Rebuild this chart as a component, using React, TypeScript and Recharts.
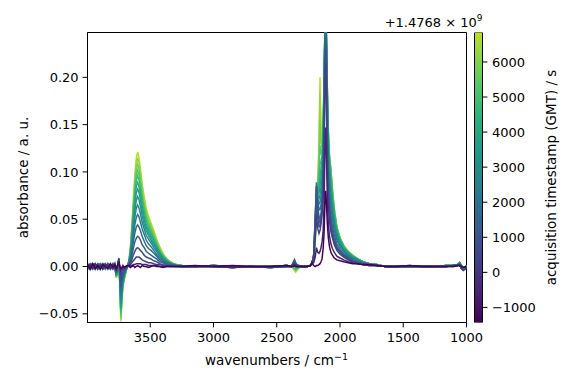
import React from 'react';
import { LineChart, Line, XAxis, YAxis, BarChart, Bar, ReferenceArea } from 'recharts';

const wavenumbers = [
  3996, 3975, 3955, 3935, 3915, 3895, 3875, 3855, 3835, 3815, 3795, 3780,
  3768, 3758, 3748, 3740, 3732, 3724, 3716, 3706, 3694, 3682,
  3670, 3658, 3646, 3634, 3622, 3610, 3600, 3590, 3578, 3564, 3548, 3532, 3514, 3494, 3472, 3450, 3425, 3400, 3370, 3340, 3300, 3250,
  3150, 3000, 2850, 2700, 2550, 2420,
  2385, 2370, 2360, 2350, 2340, 2325, 2300,
  2260, 2235, 2222, 2208, 2196, 2186, 2176, 2166, 2158, 2150, 2142, 2134, 2126, 2119, 2113, 2107, 2100, 2092, 2083, 2072, 2060, 2045, 2025, 2000, 1970, 1935, 1900, 1860, 1820, 1770, 1710,
  1640, 1550, 1450, 1350, 1250, 1160, 1100, 1070, 1055, 1040, 1025, 1000,
];

const timestamps = [-1400, -500, 300, 800, 1300, 1800, 2300, 2800, 3300, 3800, 4300, 4800, 5300, 5800, 6300, 6800];

const s0 = [
  0.002, -0.003, 0.003, -0.002, 0.001, -0.003, 0.002, 0.000, -0.002, 0.003, -0.001, 0.002,
  -0.002, 0.002, 0.004, 0.000, -0.002, -0.001, 0.001, -0.001, 0.000, 0.001,
  0.001, -0.001, 0.000, 0.001, -0.001, 0.000, 0.001, 0.000, -0.001, 0.001, 0.000, 0.000, -0.001, 0.000, 0.001, 0.000, 0.000, -0.001, 0.000, 0.000, 0.000, 0.000,
  0.001, 0.000, 0.001, 0.000, 0.000, 0.001,
  0.000, 0.000, 0.001, 0.000, 0.000, 0.000, 0.000,
  0.000, 0.001, 0.004, 0.001, 0.000, 0.001, 0.001, 0.002, 0.003, 0.005, 0.008, 0.018, 0.035, 0.068, 0.080, 0.066, 0.045, 0.030, 0.021, 0.015, 0.012, 0.009, 0.007, 0.006, 0.005, 0.004, 0.003, 0.003, 0.002, 0.002, 0.001,
  0.000, 0.000, 0.001, 0.000, 0.000, 0.000, 0.000, 0.001, 0.001, 0.000, -0.001, 0.000,
];
const s1 = [
  -0.001, 0.002, -0.002, 0.003, -0.001, 0.001, -0.003, 0.002, 0.001, -0.002, 0.002, -0.001,
  -0.003, 0.001, 0.005, -0.001, -0.004, -0.002, -0.001, -0.001, 0.000, 0.000,
  0.000, 0.001, 0.001, 0.002, 0.002, 0.003, 0.003, 0.003, 0.003, 0.002, 0.002, 0.002, 0.001, 0.001, 0.001, 0.001, 0.000, 0.000, 0.000, 0.000, 0.000, 0.000,
  0.000, 0.000, -0.001, 0.000, 0.000, 0.001,
  0.000, 0.001, 0.002, 0.001, 0.000, 0.000, 0.000,
  0.000, 0.001, 0.003, 0.004, 0.010, 0.020, 0.015, 0.014, 0.016, 0.020, 0.026, 0.036, 0.065, 0.125, 0.147, 0.115, 0.070, 0.045, 0.032, 0.024, 0.019, 0.015, 0.011, 0.009, 0.007, 0.005, 0.004, 0.003, 0.002, 0.001, 0.001,
  0.000, 0.000, 0.001, 0.000, 0.000, 0.000, 0.000, 0.001, 0.001, 0.000, -0.001, 0.000,
];
const s2 = [
  0.003, -0.001, 0.001, -0.003, 0.002, 0.000, 0.002, -0.002, 0.003, -0.001, 0.000, -0.002,
  -0.004, 0.001, 0.008, -0.003, -0.009, -0.005, -0.003, -0.002, -0.001, 0.000,
  0.001, 0.002, 0.004, 0.006, 0.008, 0.010, 0.010, 0.010, 0.009, 0.007, 0.006, 0.005, 0.004, 0.004, 0.003, 0.002, 0.002, 0.001, 0.001, 0.000, 0.000, 0.000,
  0.000, 0.001, 0.000, 0.000, -0.001, 0.000,
  0.000, 0.002, 0.004, 0.002, 0.001, 0.000, 0.000,
  0.000, 0.001, 0.003, 0.008, 0.030, 0.055, 0.040, 0.035, 0.038, 0.045, 0.055, 0.072, 0.120, 0.190, 0.215, 0.175, 0.100, 0.066, 0.048, 0.037, 0.030, 0.023, 0.017, 0.013, 0.010, 0.007, 0.005, 0.003, 0.002, 0.001, 0.001,
  0.000, 0.000, 0.000, 0.000, 0.000, 0.000, 0.001, 0.001, 0.002, -0.002, -0.004, -0.001,
];
const s3 = [
  -0.002, 0.001, 0.003, -0.001, -0.002, 0.002, 0.000, 0.003, -0.002, 0.001, -0.003, 0.001,
  -0.005, 0.001, 0.009, -0.005, -0.015, -0.009, -0.006, -0.003, -0.001, 0.000,
  0.001, 0.003, 0.007, 0.012, 0.016, 0.019, 0.020, 0.019, 0.017, 0.015, 0.012, 0.010, 0.009, 0.008, 0.006, 0.005, 0.003, 0.002, 0.001, 0.001, 0.000, 0.000,
  0.000, 0.000, -0.001, 0.000, 0.000, 0.001,
  0.000, 0.003, 0.005, 0.002, 0.001, 0.000, 0.000,
  0.000, 0.001, 0.003, 0.010, 0.040, 0.070, 0.052, 0.042, 0.042, 0.048, 0.058, 0.078, 0.130, 0.205, 0.230, 0.190, 0.112, 0.075, 0.055, 0.042, 0.034, 0.026, 0.019, 0.015, 0.011, 0.008, 0.006, 0.004, 0.002, 0.001, 0.001,
  0.000, 0.000, 0.000, 0.000, 0.000, 0.000, 0.001, 0.001, 0.002, -0.002, -0.004, -0.001,
];
const s4 = [
  0.001, -0.002, 0.000, 0.002, -0.003, 0.001, 0.003, -0.001, 0.000, 0.002, -0.002, 0.003,
  -0.006, 0.001, 0.008, -0.007, -0.021, -0.013, -0.008, -0.005, -0.002, 0.000,
  0.002, 0.005, 0.011, 0.019, 0.026, 0.030, 0.032, 0.031, 0.028, 0.023, 0.020, 0.016, 0.014, 0.012, 0.010, 0.008, 0.005, 0.004, 0.002, 0.001, 0.001, 0.000,
  0.000, 0.001, 0.000, 0.000, -0.001, 0.000,
  0.000, 0.004, 0.007, 0.003, 0.002, 0.001, 0.000,
  0.000, 0.001, 0.003, 0.012, 0.050, 0.085, 0.062, 0.048, 0.046, 0.052, 0.062, 0.084, 0.142, 0.218, 0.242, 0.205, 0.125, 0.083, 0.062, 0.048, 0.038, 0.029, 0.021, 0.016, 0.012, 0.009, 0.006, 0.004, 0.003, 0.002, 0.001,
  0.000, 0.000, 0.000, 0.000, 0.000, 0.000, 0.001, 0.001, 0.002, -0.002, -0.004, -0.001,
];
const s5 = [
  0.000, 0.003, -0.002, 0.001, 0.002, -0.003, 0.001, 0.002, -0.001, -0.002, 0.003, 0.000,
  -0.007, 0.000, 0.008, -0.009, -0.026, -0.016, -0.010, -0.006, -0.003, 0.000,
  0.002, 0.007, 0.015, 0.026, 0.035, 0.042, 0.044, 0.042, 0.038, 0.032, 0.027, 0.022, 0.019, 0.017, 0.014, 0.011, 0.007, 0.005, 0.003, 0.002, 0.001, 0.000,
  0.000, 0.000, -0.001, 0.000, 0.000, 0.001,
  0.000, 0.004, 0.007, 0.004, 0.002, 0.001, 0.000,
  0.000, 0.001, 0.003, 0.013, 0.052, 0.089, 0.066, 0.052, 0.050, 0.056, 0.066, 0.090, 0.150, 0.232, 0.255, 0.215, 0.138, 0.091, 0.070, 0.054, 0.043, 0.033, 0.024, 0.018, 0.013, 0.010, 0.007, 0.005, 0.003, 0.002, 0.001,
  0.000, 0.000, 0.000, 0.000, 0.000, 0.000, 0.001, 0.001, 0.002, -0.002, -0.004, -0.001,
];
const s6 = [
  -0.003, 0.000, 0.002, -0.002, 0.003, 0.001, -0.002, 0.000, 0.002, -0.003, 0.001, 0.002,
  -0.008, 0.000, 0.007, -0.011, -0.031, -0.019, -0.012, -0.007, -0.003, 0.000,
  0.003, 0.008, 0.019, 0.032, 0.044, 0.052, 0.055, 0.053, 0.047, 0.040, 0.034, 0.028, 0.024, 0.021, 0.017, 0.013, 0.009, 0.006, 0.004, 0.002, 0.001, 0.000,
  0.000, 0.001, 0.000, 0.000, -0.001, 0.000,
  0.000, 0.004, 0.006, 0.003, 0.001, 0.001, 0.000,
  0.000, 0.001, 0.003, 0.012, 0.048, 0.085, 0.070, 0.060, 0.060, 0.066, 0.076, 0.100, 0.165, 0.245, 0.262, 0.225, 0.150, 0.100, 0.078, 0.062, 0.050, 0.038, 0.028, 0.021, 0.015, 0.011, 0.008, 0.006, 0.004, 0.002, 0.001,
  0.000, 0.000, 0.000, 0.000, 0.000, 0.000, 0.001, 0.001, 0.002, -0.002, -0.004, -0.001,
];
const s7 = [
  0.002, 0.001, -0.003, 0.000, 0.001, 0.003, -0.001, -0.002, 0.003, 0.000, -0.002, 0.001,
  -0.008, -0.001, 0.007, -0.013, -0.035, -0.022, -0.013, -0.008, -0.004, 0.000,
  0.003, 0.010, 0.023, 0.038, 0.052, 0.062, 0.065, 0.062, 0.056, 0.047, 0.040, 0.033, 0.029, 0.025, 0.020, 0.016, 0.011, 0.007, 0.005, 0.003, 0.001, 0.000,
  0.000, 0.000, -0.001, 0.000, 0.000, 0.001,
  0.000, 0.003, 0.005, 0.002, 0.001, 0.000, 0.000,
  0.000, 0.001, 0.003, 0.011, 0.045, 0.082, 0.072, 0.066, 0.068, 0.075, 0.085, 0.110, 0.175, 0.248, 0.262, 0.230, 0.160, 0.110, 0.087, 0.070, 0.056, 0.043, 0.031, 0.023, 0.017, 0.012, 0.009, 0.006, 0.004, 0.002, 0.001,
  0.000, 0.000, 0.000, 0.000, 0.000, 0.000, 0.001, 0.001, 0.002, -0.002, -0.004, -0.001,
];
const s8 = [
  -0.001, -0.003, 0.001, 0.003, 0.000, -0.001, 0.002, 0.003, -0.003, 0.002, 0.001, -0.002,
  -0.009, -0.001, 0.006, -0.014, -0.039, -0.024, -0.015, -0.009, -0.004, 0.000,
  0.004, 0.011, 0.026, 0.043, 0.059, 0.070, 0.074, 0.071, 0.064, 0.054, 0.045, 0.038, 0.033, 0.028, 0.023, 0.018, 0.013, 0.009, 0.005, 0.003, 0.001, 0.000,
  0.000, 0.001, 0.000, 0.000, -0.001, 0.000,
  0.000, 0.003, 0.004, 0.001, 0.000, 0.000, 0.000,
  0.000, 0.001, 0.003, 0.010, 0.042, 0.078, 0.074, 0.072, 0.076, 0.084, 0.094, 0.118, 0.182, 0.250, 0.262, 0.235, 0.168, 0.118, 0.095, 0.078, 0.062, 0.047, 0.034, 0.025, 0.018, 0.013, 0.010, 0.007, 0.004, 0.003, 0.001,
  0.000, 0.000, 0.000, 0.000, 0.000, 0.001, 0.001, 0.002, 0.004, 0.001, -0.002, 0.001,
];
const s9 = [
  0.003, 0.000, -0.001, -0.002, 0.002, 0.003, 0.000, -0.003, 0.001, 0.002, -0.001, 0.003,
  -0.009, -0.002, 0.006, -0.016, -0.043, -0.026, -0.016, -0.010, -0.005, 0.000,
  0.004, 0.012, 0.029, 0.048, 0.066, 0.078, 0.082, 0.079, 0.071, 0.060, 0.050, 0.042, 0.036, 0.031, 0.025, 0.020, 0.014, 0.009, 0.006, 0.003, 0.001, 0.000,
  0.000, 0.000, -0.001, 0.000, 0.000, 0.001,
  0.000, 0.002, 0.003, 0.000, -0.001, 0.000, 0.000,
  0.000, 0.001, 0.003, 0.010, 0.038, 0.074, 0.075, 0.078, 0.085, 0.094, 0.104, 0.126, 0.190, 0.252, 0.262, 0.240, 0.175, 0.126, 0.102, 0.085, 0.067, 0.051, 0.036, 0.027, 0.019, 0.014, 0.010, 0.007, 0.005, 0.003, 0.002,
  0.000, 0.000, 0.000, 0.000, 0.000, 0.001, 0.001, 0.002, 0.004, 0.001, -0.002, 0.001,
];
const s10 = [
  -0.002, 0.002, 0.003, 0.000, -0.003, 0.002, 0.001, 0.001, -0.002, 0.000, 0.003, -0.001,
  -0.010, -0.002, 0.006, -0.017, -0.046, -0.028, -0.017, -0.011, -0.005, 0.000,
  0.004, 0.013, 0.031, 0.052, 0.071, 0.085, 0.089, 0.085, 0.077, 0.065, 0.054, 0.045, 0.039, 0.034, 0.028, 0.021, 0.015, 0.010, 0.006, 0.004, 0.002, 0.001,
  0.000, 0.001, 0.000, 0.000, -0.001, 0.000,
  0.000, 0.001, 0.002, -0.001, -0.001, 0.000, 0.000,
  0.000, 0.001, 0.003, 0.009, 0.035, 0.070, 0.076, 0.084, 0.095, 0.104, 0.112, 0.132, 0.195, 0.253, 0.262, 0.243, 0.180, 0.132, 0.108, 0.092, 0.072, 0.054, 0.038, 0.028, 0.020, 0.015, 0.011, 0.008, 0.005, 0.003, 0.002,
  0.000, 0.000, 0.000, 0.000, 0.000, 0.001, 0.001, 0.002, 0.004, 0.001, -0.002, 0.001,
];
const s11 = [
  0.001, -0.001, -0.003, 0.002, 0.001, -0.002, 0.003, 0.000, 0.002, -0.003, 0.000, 0.002,
  -0.010, -0.002, 0.005, -0.018, -0.049, -0.030, -0.018, -0.012, -0.006, 0.000,
  0.005, 0.014, 0.034, 0.056, 0.077, 0.091, 0.096, 0.092, 0.083, 0.070, 0.059, 0.049, 0.042, 0.036, 0.030, 0.023, 0.016, 0.011, 0.007, 0.004, 0.002, 0.001,
  0.000, 0.000, -0.001, 0.000, 0.000, 0.001,
  0.000, 0.000, 0.000, -0.002, -0.002, -0.001, 0.000,
  0.000, 0.001, 0.003, 0.009, 0.033, 0.066, 0.078, 0.092, 0.108, 0.112, 0.118, 0.136, 0.198, 0.254, 0.262, 0.245, 0.185, 0.138, 0.112, 0.097, 0.076, 0.057, 0.040, 0.029, 0.021, 0.015, 0.011, 0.008, 0.005, 0.003, 0.002,
  0.000, 0.000, 0.000, 0.000, 0.000, 0.001, 0.001, 0.002, 0.004, 0.001, -0.002, 0.001,
];
const s12 = [
  0.000, 0.003, 0.001, -0.003, 0.002, 0.000, -0.002, 0.002, 0.000, 0.003, -0.002, -0.001,
  -0.011, -0.003, 0.005, -0.019, -0.052, -0.032, -0.019, -0.012, -0.006, 0.000,
  0.005, 0.015, 0.036, 0.059, 0.082, 0.097, 0.102, 0.098, 0.088, 0.074, 0.062, 0.052, 0.045, 0.039, 0.032, 0.024, 0.017, 0.012, 0.007, 0.004, 0.002, 0.001,
  0.000, 0.001, 0.000, 0.000, -0.001, 0.000,
  0.000, -0.001, -0.002, -0.003, -0.002, -0.001, 0.000,
  0.000, 0.001, 0.003, 0.008, 0.030, 0.062, 0.080, 0.102, 0.128, 0.120, 0.122, 0.140, 0.200, 0.254, 0.262, 0.246, 0.188, 0.142, 0.115, 0.100, 0.079, 0.059, 0.041, 0.030, 0.021, 0.015, 0.011, 0.008, 0.005, 0.003, 0.002,
  0.000, 0.000, 0.000, 0.000, 0.000, 0.001, 0.001, 0.002, 0.004, 0.001, -0.002, 0.001,
];
const s13 = [
  0.002, -0.002, 0.000, 0.001, -0.001, 0.003, 0.000, -0.003, 0.002, 0.001, 0.002, -0.003,
  -0.011, -0.003, 0.005, -0.020, -0.054, -0.033, -0.020, -0.013, -0.006, 0.000,
  0.005, 0.016, 0.038, 0.063, 0.086, 0.103, 0.108, 0.104, 0.093, 0.079, 0.066, 0.055, 0.048, 0.041, 0.033, 0.026, 0.018, 0.012, 0.008, 0.004, 0.002, 0.001,
  0.000, 0.000, -0.001, 0.000, 0.000, 0.001,
  0.000, -0.001, -0.003, -0.004, -0.003, -0.001, 0.000,
  0.000, 0.001, 0.003, 0.008, 0.028, 0.058, 0.082, 0.115, 0.155, 0.130, 0.126, 0.142, 0.198, 0.250, 0.256, 0.240, 0.188, 0.144, 0.117, 0.102, 0.081, 0.060, 0.042, 0.030, 0.022, 0.016, 0.012, 0.008, 0.005, 0.003, 0.002,
  0.000, 0.000, 0.000, 0.000, 0.000, 0.001, 0.001, 0.002, 0.004, 0.001, -0.002, 0.001,
];
const s14 = [
  -0.003, 0.001, 0.002, -0.001, 0.003, -0.002, 0.001, 0.002, -0.001, -0.002, 0.003, 0.000,
  -0.012, -0.003, 0.004, -0.021, -0.056, -0.035, -0.021, -0.013, -0.007, 0.000,
  0.006, 0.017, 0.040, 0.067, 0.092, 0.109, 0.115, 0.110, 0.099, 0.084, 0.070, 0.059, 0.051, 0.044, 0.036, 0.028, 0.020, 0.013, 0.008, 0.005, 0.002, 0.001,
  0.000, 0.001, 0.000, 0.000, -0.001, 0.000,
  0.000, -0.002, -0.004, -0.005, -0.003, -0.001, 0.000,
  0.000, 0.001, 0.002, 0.007, 0.026, 0.055, 0.084, 0.128, 0.185, 0.140, 0.128, 0.140, 0.185, 0.225, 0.225, 0.212, 0.176, 0.140, 0.117, 0.103, 0.082, 0.061, 0.042, 0.030, 0.022, 0.016, 0.012, 0.008, 0.005, 0.003, 0.002,
  0.000, 0.000, 0.000, 0.000, 0.000, 0.001, 0.001, 0.002, 0.004, 0.001, -0.002, 0.001,
];
const s15 = [
  0.001, 0.002, -0.002, 0.003, -0.002, 0.001, -0.003, 0.001, 0.003, 0.000, -0.001, 0.002,
  -0.012, -0.004, 0.004, -0.022, -0.058, -0.036, -0.022, -0.014, -0.007, 0.000,
  0.006, 0.018, 0.042, 0.070, 0.097, 0.115, 0.121, 0.116, 0.104, 0.088, 0.074, 0.062, 0.053, 0.046, 0.038, 0.029, 0.021, 0.014, 0.008, 0.005, 0.002, 0.001,
  0.000, 0.000, -0.001, 0.000, 0.000, 0.001,
  0.000, -0.002, -0.004, -0.006, -0.004, -0.001, 0.000,
  0.000, 0.001, 0.002, 0.007, 0.025, 0.052, 0.085, 0.135, 0.200, 0.145, 0.128, 0.136, 0.170, 0.200, 0.198, 0.188, 0.165, 0.136, 0.116, 0.102, 0.082, 0.061, 0.042, 0.030, 0.022, 0.016, 0.012, 0.008, 0.005, 0.003, 0.002,
  0.000, 0.000, 0.000, 0.000, 0.000, 0.001, 0.001, 0.002, 0.004, 0.001, -0.002, 0.001,
];

const spectra = [s0, s1, s2, s3, s4, s5, s6, s7, s8, s9, s10, s11, s12, s13, s14, s15];

const xTicks = [3500, 3000, 2500, 2000, 1500, 1000];
const yTicks = [-0.05, 0, 0.05, 0.1, 0.15, 0.2];
const cbTicks = [-1000, 0, 1000, 2000, 3000, 4000, 5000, 6000];
const cbRange = [-1430, 6840];
const xDomain = [1000, 3996];
const yDomain = [-0.0592, 0.2474];

const VIRIDIS = ['#440154', '#482475', '#414487', '#355f8d', '#2a788e', '#21918c', '#22a884', '#44bf70', '#7ad151', '#bddf26', '#fde725'];
const CMAP_TOP = 0.9;

function hexToRgb(h: string) {
  return [parseInt(h.slice(1, 3), 16), parseInt(h.slice(3, 5), 16), parseInt(h.slice(5, 7), 16)];
}
function viridis(f: number) {
  const c = Math.max(0, Math.min(1, f)) * (VIRIDIS.length - 1);
  const i = Math.min(VIRIDIS.length - 2, Math.floor(c));
  const t = c - i;
  const a = hexToRgb(VIRIDIS[i]);
  const b = hexToRgb(VIRIDIS[i + 1]);
  const m = a.map((v, j) => Math.round(v + (b[j] - v) * t));
  return `rgb(${m[0]},${m[1]},${m[2]})`;
}
function colorFor(ts: number) {
  return viridis(((ts - cbRange[0]) / (cbRange[1] - cbRange[0])) * CMAP_TOP);
}

const rows = wavenumbers.map((w, i) => {
  const r: Record<string, number> = { w };
  spectra.forEach((s, k) => {
    r['s' + k] = s[i];
  });
  return r;
});

const cbData = [{ name: 'cb', range: cbRange }];

const FONT = 'DejaVu Sans';
const FS = 13;
const FS_LABEL = 13.5;
const tickStyle = { fill: '#000', fontSize: FS, fontFamily: FONT };
const minus = (s: string) => s.replace('-', '\u2212');

const gradStops = Array.from({ length: 11 }, (_, i) => i / 10);

export default function App() {
  const order = spectra.map((_, k) => k).reverse();
  return (
    <div style={{ position: 'relative', width: 576, height: 384 }}>
      <div style={{ position: 'fixed', left: 0, top: 0, width: 576, height: 384, background: '#fff' }}>
        <svg width={576} height={384} style={{ position: 'absolute', left: 0, top: 0 }}>
          <defs>
            <linearGradient id="viridisGrad" x1="0" y1="1" x2="0" y2="0">
              {gradStops.map((o) => (
                <stop key={o} offset={o} stopColor={viridis(o * CMAP_TOP)} />
              ))}
            </linearGradient>
          </defs>
        </svg>
        <div style={{ position: 'absolute', left: 0, top: 0 }}>
          <LineChart width={576} height={384} data={rows} margin={{ top: 32.5, right: 109.5, bottom: 31.5, left: 27.5 }}>
            <XAxis
              dataKey="w"
              type="number"
              domain={xDomain}
              reversed
              ticks={xTicks}
              allowDataOverflow
              height={30}
              tickSize={4.9}
              tickMargin={5.5}
              stroke="#000"
              tick={tickStyle}
              interval={0}
            />
            <YAxis
              type="number"
              domain={yDomain}
              ticks={yTicks}
              allowDataOverflow
              width={60}
              tickSize={4.9}
              tickMargin={4}
              stroke="#000"
              tick={tickStyle}
              interval={0}
              tickFormatter={(v: number) => minus(v.toFixed(2))}
            />
            {order.map((k) => (
              <Line
                key={k}
                dataKey={'s' + k}
                type="linear"
                stroke={colorFor(timestamps[k])}
                strokeWidth={1.5}
                dot={false}
                activeDot={false}
                isAnimationActive={false}
              />
            ))}
            <ReferenceArea
              x1={xDomain[0]}
              x2={xDomain[1]}
              y1={yDomain[0]}
              y2={yDomain[1]}
              fill="none"
              fillOpacity={0}
              stroke="#000"
              strokeWidth={1}
              strokeOpacity={1}
              ifOverflow="visible"
            />
          </LineChart>
        </div>
        <div style={{ position: 'absolute', left: 0, top: 0 }}>
          <BarChart width={576} height={384} data={cbData} margin={{ top: 32.5, right: 33.5, bottom: 61.5, left: 474.5 }} barCategoryGap={0} barGap={0}>
            <XAxis dataKey="name" type="category" hide />
            <YAxis
              orientation="right"
              type="number"
              domain={cbRange}
              ticks={cbTicks}
              allowDataOverflow
              width={60}
              axisLine={false}
              tickSize={4.9}
              tickMargin={4.5}
              stroke="#000"
              tick={tickStyle}
              interval={0}
              tickFormatter={(v: number) => minus(String(v))}
            />
            <Bar dataKey="range" fill="url(#viridisGrad)" stroke="#000" strokeWidth={1} isAnimationActive={false} />
          </BarChart>
        </div>
        <svg width={576} height={384} style={{ position: 'absolute', left: 0, top: 0, pointerEvents: 'none' }} fontFamily={FONT} fill="#000">
          <text x={28} y={177.5} fontSize={FS_LABEL} textAnchor="middle" transform="rotate(-90 28 177.5)">
            absorbance / a. u.
          </text>
          <text x={276.5} y={365} fontSize={FS_LABEL} textAnchor="middle">
            wavenumbers / cm<tspan dy={-5.5} fontSize={9.5}>{'\u22121'}</tspan>
          </text>
          <text x={555.5} y={177.5} fontSize={FS_LABEL} textAnchor="middle" transform="rotate(-90 555.5 177.5)">
            acquisition timestamp (GMT) / s
          </text>
          <text x={482.5} y={26.5} fontSize={FS} textAnchor="end">
            +1.4768 {'\u00d7'} 10<tspan dy={-5.5} fontSize={9}>9</tspan>
          </text>
        </svg>
      </div>
    </div>
  );
}
